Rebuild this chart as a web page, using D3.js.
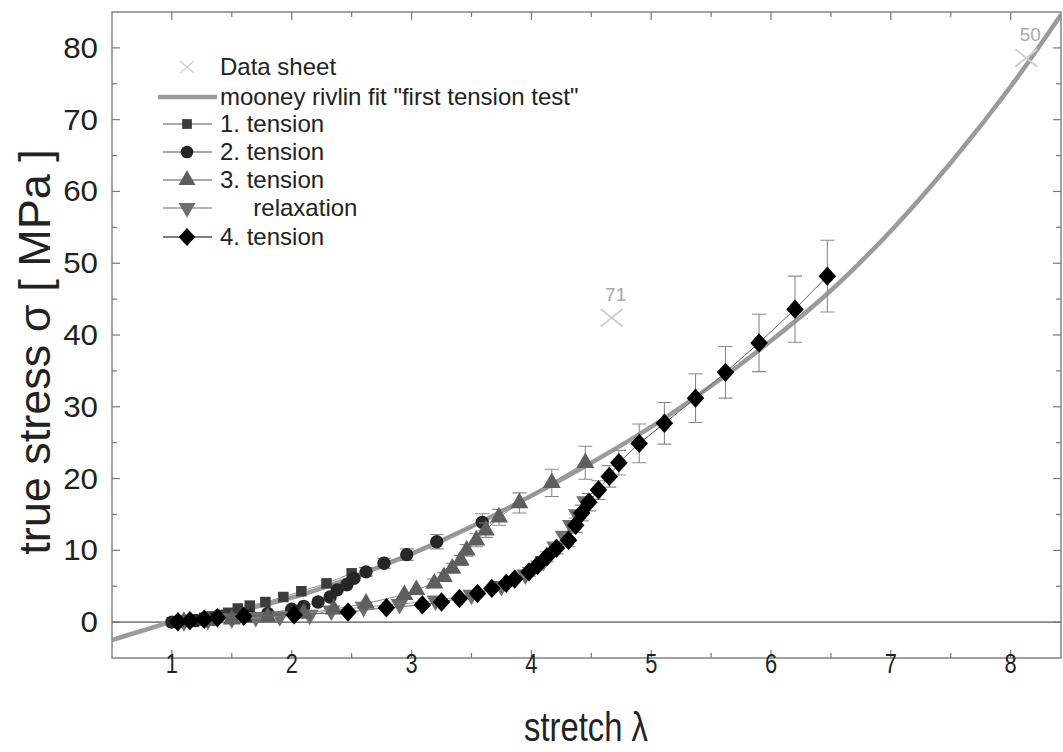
<!DOCTYPE html>
<html><head><meta charset="utf-8">
<script src="https://cdn.jsdelivr.net/npm/d3@7"></script>
<style>body{margin:0;background:#fff}svg{display:block}text{font-family:"Liberation Sans",Arial,sans-serif}</style>
</head><body><svg id="c" width="1063" height="752"></svg>
<script>
// ---- data ----
const xTicks = [1,2,3,4,5,6,7,8];
const yTicks = [0,10,20,30,40,50,60,70,80];
const fitCurve = [[0.5,-2.5],[0.75,-1.2],[1,0],[1.5,1.4],[2,3.4],[2.5,6.2],[3,9.5],[3.5,13.3],[4,17.6],[4.5,22.2],[5,27.2],[5.5,32.9],[6,39.2],[6.5,46.2],[7,54.5],[7.5,64.0],[8,74.6],[8.42,84.6]];
const dataSheet = [[4.67,42.4,"71"],[8.13,78.6,"50"]];
const tension1 = [[1.0,0],[1.05,0.1],[1.1,0.2],[1.15,0.3],[1.2,0.4],[1.27,0.6],[1.33,0.8],[1.4,1.0],[1.47,1.3],[1.55,1.9],[1.65,2.3],[1.78,2.8],[1.93,3.5],[2.08,4.3],[2.29,5.4],[2.5,6.8]];
const tension2 = [[1.0,0],[1.1,0.1],[1.2,0.2],[1.35,0.4],[1.5,0.6],[1.65,0.9],[1.8,1.2],[2.0,1.8],[2.1,2.2],[2.22,2.8],[2.32,3.5],[2.38,4.5],[2.46,5.2],[2.52,6.1],[2.62,7.0],[2.77,8.2],[2.96,9.4],[3.21,11.2],[3.59,13.9]];
const tension2Err = [0.2,0.2,0.2,0.2,0.2,0.3,0.3,0.3,0.3,0.4,0.4,0.4,0.5,0.5,0.6,0.7,0.8,1.0,1.2];
const tension3 = [[1.1,0.05],[1.3,0.2],[1.5,0.4],[1.8,0.7],[2.1,1.2],[2.35,1.8],[2.62,2.6],[2.94,3.8],[3.04,4.5],[3.19,5.4],[3.27,6.3],[3.34,7.5],[3.41,8.6],[3.46,10],[3.54,11.4],[3.62,12.8],[3.73,14.6],[3.9,16.6],[4.17,19.4],[4.45,22.2]];
const tension3Err = [0.1,0.1,0.2,0.2,0.3,0.3,0.4,0.5,0.5,0.6,0.6,0.7,0.7,0.8,0.9,1.0,1.1,1.4,1.9,2.3];
const relaxation = [[1.1,0.1],[1.3,0.3],[1.5,0.5],[1.7,0.7],[1.9,0.8],[2.15,1.0],[2.33,1.6],[2.6,2.1],[2.9,2.5],[3.2,3.0],[3.5,3.8],[3.75,5.0],[3.95,6.6],[4.1,8.5],[4.2,10.5],[4.27,12.0],[4.33,13.5],[4.38,15.0],[4.45,16.8]];
const tension4 = [[1.05,0.05],[1.15,0.2],[1.27,0.4],[1.38,0.6],[1.6,0.8],[2.02,1.0],[2.47,1.4],[2.79,2.0],[3.09,2.4],[3.25,2.8],[3.4,3.3],[3.55,4.0],[3.67,4.7],[3.79,5.4],[3.86,6.0],[3.98,7.0],[4.05,7.9],[4.13,9.1],[4.21,10.3],[4.31,11.4],[4.37,13.5],[4.42,15.2],[4.48,16.7],[4.56,18.4],[4.65,20.3],[4.73,22.2],[4.9,24.9],[5.11,27.7],[5.37,31.2],[5.62,34.8],[5.9,38.9],[6.2,43.6],[6.47,48.2]];
const tension4Err = [0.1,0.1,0.1,0.1,0.2,0.2,0.2,0.3,0.3,0.3,0.4,0.4,0.5,0.5,0.5,0.6,0.6,0.7,0.8,0.9,1.0,1.1,1.2,1.3,1.5,1.7,2.7,2.9,3.4,3.6,4.0,4.6,5.0];
const legendLabels = ["Data sheet","mooney rivlin fit \"first tension test\"","1. tension","2. tension","3. tension","     relaxation","4. tension"];

// ---- layout ----
const svg = d3.select("#c");
const L = 112, R = 1061, T = 12, B = 658;
const x = d3.scaleLinear().domain([0.5, 8.42]).range([L, R]);
const y = d3.scaleLinear().domain([-5, 85]).range([B, T]);

svg.append("clipPath").attr("id", "pc").append("rect").attr("x", L).attr("y", T).attr("width", R - L).attr("height", B - T);
const plot = svg.append("g").attr("clip-path", "url(#pc)");

// zero line
plot.append("line").attr("x1", L).attr("x2", R).attr("y1", y(0)).attr("y2", y(0)).attr("stroke", "#555").attr("stroke-width", 1.3);

// fit curve
const line = d3.line().x(d => x(d[0])).y(d => y(d[1])).curve(d3.curveCatmullRom.alpha(0.5));
plot.append("path").datum(fitCurve).attr("d", line).attr("fill", "none").attr("stroke", "#9b9b9b").attr("stroke-width", 4.5);

// data sheet crosses
const ds = plot.append("g");
dataSheet.forEach(d => {
  const cx = x(d[0]), cy = y(d[1]), s = 11;
  ds.append("path").attr("d", `M${cx-s},${cy-s*0.8}L${cx+s},${cy+s*0.8}M${cx-s},${cy+s*0.8}L${cx+s},${cy-s*0.8}`).attr("stroke", "#cfcfcf").attr("stroke-width", 2).attr("fill", "none");
  ds.append("text").attr("x", cx + 4).attr("y", cy - 17).attr("text-anchor", "middle").attr("font-size", 19).attr("fill", "#a8a8a8").text(d[2]);
});

const lineStraight = d3.line().x(d => x(d[0])).y(d => y(d[1]));
function series(data, err, sym, size, fill, lineColor, lineW) {
  const g = plot.append("g");
  g.append("path").datum(data).attr("d", lineStraight).attr("fill", "none").attr("stroke", lineColor).attr("stroke-width", lineW);
  if (err) {
    data.forEach((d, i) => {
      const e = err[i]; if (e < 0.6) return;
      const cx = x(d[0]);
      g.append("path").attr("d", `M${cx},${y(d[1]-e)}V${y(d[1]+e)}M${cx-7},${y(d[1]-e)}h14M${cx-7},${y(d[1]+e)}h14`).attr("stroke", "#8a8a8a").attr("stroke-width", 1.1).attr("fill", "none");
    });
  }
  const s = d3.symbol().type(sym).size(size);
  g.selectAll("path.m").data(data).join("path").attr("class", "m")
    .attr("d", s).attr("transform", d => `translate(${x(d[0])},${y(d[1])})`)
    .attr("fill", fill);
  return g;
}
const triDown = { draw(ctx, size) { const h = Math.sqrt(size / (Math.sqrt(3) / 4)); const r = h / Math.sqrt(3); ctx.moveTo(0, r); ctx.lineTo(h/2, -r/2); ctx.lineTo(-h/2, -r/2); ctx.closePath(); } };
const diamond = { draw(ctx, size) { const a = Math.sqrt(size / 2); ctx.moveTo(0, -a*1.05); ctx.lineTo(a*0.95, 0); ctx.lineTo(0, a*1.05); ctx.lineTo(-a*0.95, 0); ctx.closePath(); } };

series(tension1, null, d3.symbolSquare, 110, "#3c3c3c", "#8c8c8c", 1);
series(tension2, tension2Err, d3.symbolCircle, 140, "#262626", "#8c8c8c", 1);
series(relaxation, null, triDown, 140, "#6e6e6e", "#9a9a9a", 1);
series(tension3, tension3Err, d3.symbolTriangle, 140, "#5e5e5e", "#8c8c8c", 1);
series(tension4, tension4Err, diamond, 170, "#000", "#666", 1);

// ---- frame and axes ----
svg.append("rect").attr("x", L).attr("y", T).attr("width", R - L).attr("height", B - T).attr("stroke", "#8a8a8a").attr("fill", "none").attr("stroke-width", 1.6);
const tickC = "#777";
d3.range(1, 8.5, 0.5).forEach(v => {
  const len = Number.isInteger(v) ? 8 : 5;
  svg.append("line").attr("x1", x(v)).attr("x2", x(v)).attr("y1", B).attr("y2", B - len).attr("stroke", tickC).attr("stroke-width", 1.2);
  svg.append("line").attr("x1", x(v)).attr("x2", x(v)).attr("y1", T).attr("y2", T + len).attr("stroke", tickC).attr("stroke-width", 1.2);
});
d3.range(0, 85, 5).forEach(v => {
  const len = v % 10 === 0 ? 8 : 5;
  svg.append("line").attr("y1", y(v)).attr("y2", y(v)).attr("x1", L).attr("x2", L + len).attr("stroke", tickC).attr("stroke-width", 1.2);
  svg.append("line").attr("y1", y(v)).attr("y2", y(v)).attr("x1", R).attr("x2", R - len).attr("stroke", tickC).attr("stroke-width", 1.2);
});
svg.append("g").selectAll("text").data(xTicks).join("text")
  .attr("text-anchor", "middle").attr("font-size", 28).attr("fill", "#222")
  .attr("transform", d => `translate(${x(d)},673) scale(0.78,1)`).text(d => d);
svg.append("g").selectAll("text").data(yTicks).join("text")
  .attr("text-anchor", "end").attr("font-size", 29).attr("fill", "#222")
  .attr("transform", d => `translate(98,${y(d) + 10}) scale(1.08,1)`).text(d => d);
svg.append("text").attr("transform", "translate(586,741) scale(0.82,1)").attr("text-anchor", "middle").attr("font-size", 40).attr("fill", "#222").text("stretch λ");
svg.append("text").attr("transform", "translate(50,352) rotate(-90)").attr("text-anchor", "middle").attr("font-size", 45).attr("fill", "#222").text("true stress σ [ MPa ]");

// ---- legend ----
const lg = svg.append("g");
const rowY = [67, 97, 124, 152, 180, 208, 237];
const symX = 187, txtX = 220;
legendLabels.forEach((lab, i) => {
  lg.append("text").attr("x", txtX).attr("y", rowY[i] + 8).attr("font-size", 24).attr("fill", "#222").style("white-space", "pre").text(lab);
});
lg.append("path").attr("d", `M${symX-7},${rowY[0]-6}L${symX+7},${rowY[0]+6}M${symX-7},${rowY[0]+6}L${symX+7},${rowY[0]-6}`).attr("stroke", "#d2d2d2").attr("stroke-width", 1.6);
lg.append("line").attr("x1", 158).attr("x2", 217).attr("y1", rowY[1]).attr("y2", rowY[1]).attr("stroke", "#9b9b9b").attr("stroke-width", 4.5);
const legSyms = [[d3.symbolSquare, 95, "#3c3c3c", "#8c8c8c"], [d3.symbolCircle, 125, "#262626", "#8c8c8c"], [d3.symbolTriangle, 125, "#5e5e5e", "#8c8c8c"], [triDown, 125, "#6e6e6e", "#9a9a9a"], [diamond, 150, "#000", "#555"]];
legSyms.forEach((s, j) => {
  const yy = rowY[j + 2];
  lg.append("line").attr("x1", 163).attr("x2", 212).attr("y1", yy).attr("y2", yy).attr("stroke", s[3]).attr("stroke-width", 1.3);
  lg.append("path").attr("d", d3.symbol().type(s[0]).size(s[1])()).attr("transform", `translate(${symX},${yy})`).attr("fill", s[2]);
});
</script></body></html>
